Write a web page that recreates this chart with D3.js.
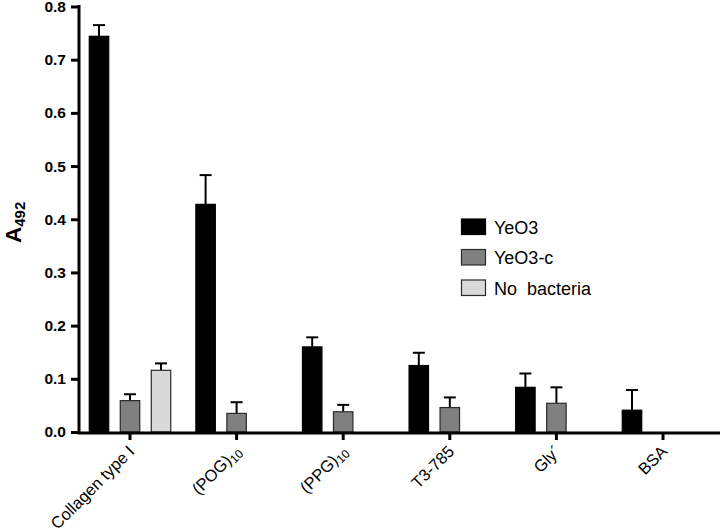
<!DOCTYPE html>
<html>
<head>
<meta charset="utf-8">
<script src="https://cdn.jsdelivr.net/npm/d3@7"></script>
<style>
  html, body { margin: 0; padding: 0; background: #fff; }
  svg { display: block; font-family: "Liberation Sans", Arial, sans-serif; }
</style>
</head>
<body>
<svg id="chart" width="720" height="531"></svg>
<script>
// ---- data ----
const categories = ["Collagen type I", "(POG)10", "(PPG)10", "T3-785", "Gly´", "BSA"];
const labelMain = ["Collagen type I", "(POG)", "(PPG)", "T3-785", "Gly´", "BSA"];
const labelSub  = ["", "10", "10", "", "", ""];
const seriesNames = ["YeO3", "YeO3-c", "No  bacteria"];
const yeo3      = [0.744, 0.428, 0.160, 0.125, 0.084, 0.041];
const yeo3Err   = [0.021, 0.055, 0.018, 0.024, 0.026, 0.038];
const yeo3c     = [0.059, 0.035, 0.038, 0.046, 0.054, null];
const yeo3cErr  = [0.012, 0.021, 0.013, 0.019, 0.030, null];
const noBact    = [0.116, null, null, null, null, null];
const noBactErr = [0.013, null, null, null, null, null];
const yTicks = [0, 0.1, 0.2, 0.3, 0.4, 0.5, 0.6, 0.7, 0.8];

const colors = ["#000000", "#808080", "#d9d9d9"];
const strokes = ["#000000", "#2a2a2a", "#2a2a2a"];

const svg = d3.select("#chart");

const x0 = d3.scaleBand().domain(categories).range([76.7, 716.3]).padding(0);
const x1 = d3.scaleBand().domain(seriesNames).range([-46.5, 46.5])
  .paddingInner(0.34).paddingOuter(0.17);
const y = d3.scaleLinear().domain([0, 0.8]).range([432, 6.5]);

const values = [yeo3, yeo3c, noBact];
const errs = [yeo3Err, yeo3cErr, noBactErr];

const rows = [];
categories.forEach((c, i) => {
  seriesNames.forEach((s, j) => {
    if (values[j][i] != null) rows.push({c, s, j, v: values[j][i], e: errs[j][i]});
  });
});

// error bars (upper only)
const eg = svg.append("g");
rows.forEach(d => {
  const cx = x0(d.c) + x0.bandwidth() / 2 + x1(d.s) + x1.bandwidth() / 2;
  eg.append("line").attr("x1", cx).attr("x2", cx)
    .attr("y1", y(d.v)).attr("y2", y(d.v + d.e))
    .attr("stroke", "#000").attr("stroke-width", 2);
  eg.append("line").attr("x1", cx - 6).attr("x2", cx + 6)
    .attr("y1", y(d.v + d.e)).attr("y2", y(d.v + d.e))
    .attr("stroke", "#000").attr("stroke-width", 2);
});

// bars
svg.append("g").selectAll("rect").data(rows).join("rect")
  .attr("x", d => x0(d.c) + x0.bandwidth() / 2 + x1(d.s) + 0.5)
  .attr("width", x1.bandwidth() - 1)
  .attr("y", d => y(d.v))
  .attr("height", d => y(0) - y(d.v))
  .attr("fill", d => colors[d.j])
  .attr("stroke", d => strokes[d.j])
  .attr("stroke-width", 1.2);

// y axis
const yAxis = svg.append("g").attr("transform", "translate(79,0)")
  .call(d3.axisLeft(y).tickValues(yTicks).tickFormat(d3.format(".1f")).tickSize(8).tickPadding(5));
yAxis.select(".domain").attr("stroke-width", 3).attr("d", `M0,${y(0.8) - 1.5}V${y(0) + 1.5}`);
yAxis.selectAll(".tick line").attr("stroke-width", 3);
yAxis.selectAll(".tick text").attr("font-size", 15.5).attr("font-weight", "bold")
  .attr("fill", "#000").attr("font-family", "Liberation Sans, Arial, sans-serif");

// x axis
const xAxis = svg.append("g").attr("transform", `translate(0,${y(0) + 1})`)
  .call(d3.axisBottom(x0).tickSize(7).tickFormat(""));
xAxis.select(".domain").attr("stroke-width", 3).attr("d", `M77.5,0H720`);
xAxis.selectAll(".tick line").attr("stroke-width", 3);

// x labels, rotated -45 degrees
const xl = svg.append("g");
categories.forEach((c, i) => {
  const cx = x0(c) + x0.bandwidth() / 2;
  const t = xl.append("text")
    .attr("transform", `translate(${cx - 3},444) rotate(-45)`)
    .attr("text-anchor", "end")
    .attr("dy", "0.72em")
    .attr("font-size", 16.5)
    .attr("fill", "#000");
  t.append("tspan").text(labelMain[i]);
  if (labelSub[i]) t.append("tspan").attr("font-size", 12).attr("dy", "0.25em").text(labelSub[i]);
});

// y label
const yl = svg.append("text")
  .attr("transform", "translate(20.5,243) rotate(-90)")
  .attr("text-anchor", "start")
  .attr("font-weight", "bold")
  .attr("font-size", 22.5)
  .attr("fill", "#000");
yl.append("tspan").text("A");
yl.append("tspan").attr("font-size", 15).attr("dy", "0.3em").text("492");

// legend
const lg = svg.append("g");
seriesNames.forEach((s, j) => {
  const yy = 219 + j * 30.5;
  lg.append("rect").attr("x", 461.5).attr("y", yy).attr("width", 24).attr("height", 15.5)
    .attr("fill", colors[j]).attr("stroke", strokes[j]).attr("stroke-width", 1.2);
  lg.append("text").attr("x", 494).attr("y", yy + 14.5)
    .attr("font-size", 18).attr("fill", "#000").text(s).style("white-space", "pre");
});
</script>
</body>
</html>
